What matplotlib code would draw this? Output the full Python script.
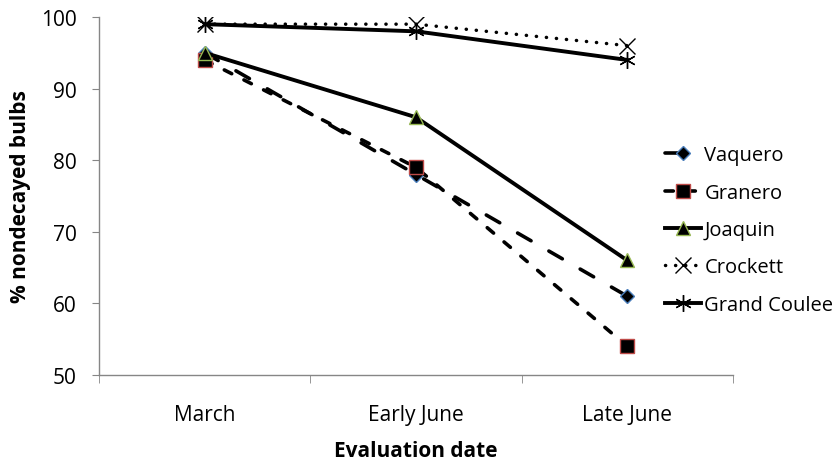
import matplotlib
matplotlib.use("Agg")
import matplotlib.pyplot as plt

plt.rcParams['font.family'] = ['Open Sans', 'DejaVu Sans']

categories = ["March", "Early June", "Late June"]
vaquero = [95, 78, 61]
granero = [94, 79, 54]
joaquin = [95, 86, 66]
crockett = [99, 99, 96]
grand_coulee = [99, 98, 94]
y_ticks = [50, 60, 70, 80, 90, 100]

fig = plt.figure(figsize=(8.38, 4.64), dpi=100)
ax = fig.add_axes([99 / 838, 88 / 464, 634 / 838, 358 / 464])
x = list(range(len(categories)))

ax.plot(x, vaquero, color='black', lw=2.6, ls=(0, (4.3, 5.7)), dash_capstyle='round',
        marker='D', ms=7, mfc='black', mec='#4a7ebb', mew=1, label='Vaquero', zorder=3)
ax.plot(x, granero, color='black', lw=2.6, ls=(0, (2.3, 3.8)), dash_capstyle='round',
        marker='s', ms=10, mfc='black', mec='#be4b48', mew=1, label='Granero', zorder=3)
ax.plot(x, joaquin, color='black', lw=2.8, ls='-', marker='^', ms=10,
        mfc='black', mec='#98b954', mew=1, label='Joaquin', zorder=3)
ax.plot(x, crockett, color='black', lw=2.5, ls=(0, (0.05, 2.85)), dash_capstyle='round',
        marker='x', ms=11, mec='black', mew=1, label='Crockett', zorder=3)
ax.plot(x, grand_coulee, color='black', lw=2.8, ls='-', marker=(6, 2, 0), ms=12,
        mec='black', mew=1, label='Grand Coulee', zorder=4)

ax.set_xlim(-0.5, 2.5)
ax.set_ylim(50, 100)
ax.set_yticks(y_ticks)
ax.set_xticks(x)
ax.set_xticklabels(categories)
ax.set_xticks([-0.5, 0.5, 1.5, 2.5], minor=True)
ax.tick_params(axis='x', which='major', length=0, pad=21, labelsize=15)
ax.tick_params(axis='x', which='minor', length=6, color='#868686', direction='out')
ax.tick_params(axis='y', length=5, color='#868686', labelsize=15, pad=11)

for s in ['top', 'right']:
    ax.spines[s].set_visible(False)
for s in ['left', 'bottom']:
    ax.spines[s].set_color('#868686')
    ax.spines[s].set_linewidth(1)

ax.set_ylabel('% nondecayed bulbs', fontweight='bold', fontsize=15, labelpad=7)
ax.set_xlabel('Evaluation date', fontweight='bold', fontsize=15, labelpad=11)

fig.legend(loc='center left', bbox_to_anchor=(665 / 838, 0.502), frameon=False,
           fontsize=14.5, handlelength=1.8, handletextpad=0.15, labelspacing=0.86,
           borderaxespad=0, borderpad=0)

fig.savefig('out.png', dpi=100)
